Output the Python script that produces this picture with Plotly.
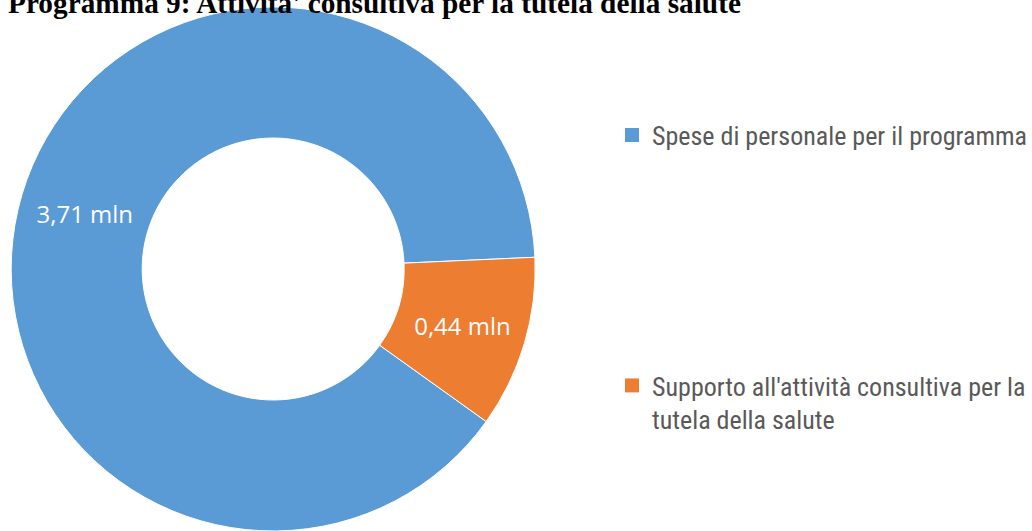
import plotly.graph_objects as go

labels = ["Spese di personale per il programma",
          "Supporto all'attività consultiva per la<br>tutela della salute"]
values = [3.71, 0.44]
colors = ["#5B9BD5", "#ED7D31"]
title_text = "Programma 9: Attivita' consultiva per la tutela della salute"

W, H = 1032, 531
text_labels = [f"{v:.2f}".replace(".", ",") + " mln" for v in values]

fig = go.Figure()
fig.add_trace(go.Pie(
    labels=labels, values=values, text=text_labels,
    textinfo="text", textposition="inside", insidetextorientation="horizontal",
    textfont=dict(family="Open Sans", size=24, color="white"),
    marker=dict(colors=colors, line=dict(color="white", width=1)),
    hole=0.5, sort=False, direction="clockwise", rotation=125.6,
    showlegend=False, hoverinfo="label+value",
    domain=dict(x=[11 / W, 538 / W], y=[0, 1 - 7 / H]),
))

# legend entries (one per slice), placed in two separate legends
for i, (lab, col) in enumerate(zip(labels, colors)):
    fig.add_trace(go.Scatter(
        x=[None], y=[None], mode="markers", name=lab,
        marker=dict(symbol="square", size=14, color=col),
        legend="legend" if i == 0 else "legend2",
    ))

legend_font = dict(family="Liberation Sans Narrow, Arial Narrow, Roboto Condensed, sans-serif",
                   size=26, color="#595959")
fig.update_layout(
    width=W, height=H,
    margin=dict(l=0, r=0, t=0, b=0),
    paper_bgcolor="white", plot_bgcolor="white",
    xaxis=dict(visible=False), yaxis=dict(visible=False),
    title=dict(text="<b>" + title_text + "</b>", x=8 / W, xanchor="left",
               xref="container", yref="container", y=1 - 3 / H, yanchor="middle",
               font=dict(family="Liberation Serif, Times New Roman, serif", size=29.3, color="black")),
    legend=dict(x=615 / W, xanchor="left", y=1 - 135 / H, yanchor="middle",
                font=legend_font, valign="top", itemwidth=30, bgcolor="rgba(0,0,0,0)"),
    legend2=dict(x=615 / W, xanchor="left", y=1 - 362 / H, yanchor="top",
                 font=legend_font, valign="top", itemwidth=30, bgcolor="rgba(0,0,0,0)"),
)

fig.write_html("out.html", config={"displayModeBar": False},
               post_script="document.body.style.margin='0';")
